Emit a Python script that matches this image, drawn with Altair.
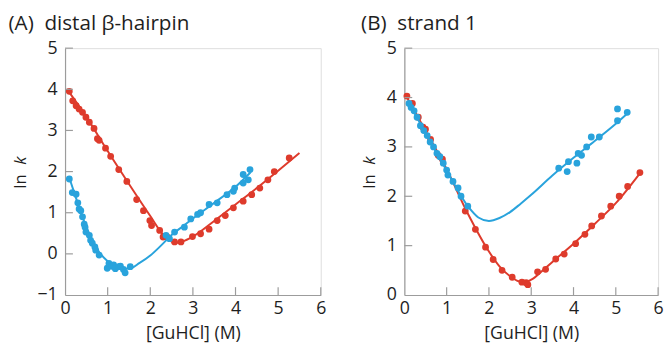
import altair as alt
import pandas as pd

FONT = "Open Sans"
RED = "#de3b2c"
BLUE = "#29a3dc"
BG = "#e4ded4"
AXIS = "#9c9c9c"
TXT = "#1e1e1e"

X_TICKS = [0, 1, 2, 3, 4, 5, 6]

# ---------------- Panel A: distal beta-hairpin ----------------
A_red_x = [0.10, 0.18, 0.26, 0.33, 0.41, 0.49, 0.57, 0.68, 0.76, 0.80, 0.95, 1.07, 1.26,
           1.45, 1.68, 1.84, 1.99, 2.03, 2.22, 2.30, 2.41, 2.57, 2.72, 2.99, 3.18, 3.38,
           3.57, 3.76, 3.95, 4.18, 4.38, 4.57, 4.76, 4.91, 5.26]
A_red_y = [3.95, 3.72, 3.60, 3.52, 3.44, 3.32, 3.20, 3.05, 2.80, 2.76, 2.57, 2.37, 2.05,
           1.76, 1.32, 1.05, 0.81, 0.69, 0.57, 0.41, 0.40, 0.29, 0.29, 0.42, 0.49, 0.60,
           0.81, 0.93, 1.12, 1.28, 1.44, 1.60, 1.80, 2.00, 2.33]
A_red_fit_x = [0.05, 0.5, 1.0, 1.5, 2.0, 2.3, 2.5, 2.6, 2.75, 3.0, 3.5, 4.0, 4.5, 5.0, 5.5]
A_red_fit_y = [4.00, 3.33, 2.50, 1.70, 0.92, 0.47, 0.30, 0.27, 0.30, 0.42, 0.80, 1.20, 1.60, 2.02, 2.45]

A_blue_x = [0.10, 0.17, 0.26, 0.30, 0.33, 0.37, 0.41, 0.45, 0.47, 0.49, 0.57, 0.60, 0.64,
            0.70, 0.72, 0.80, 0.99, 1.03, 1.10, 1.14, 1.18, 1.26, 1.30, 1.37, 1.41, 1.53,
            2.37, 2.45, 2.57, 2.80, 2.95, 3.11, 3.18, 3.38, 3.57, 3.80, 3.95, 3.98, 4.18,
            4.18, 4.30, 4.34]
A_blue_y = [1.82, 1.49, 1.45, 1.24, 1.09, 1.05, 0.90, 0.72, 0.65, 0.53, 0.45, 0.33, 0.26,
            0.17, 0.09, -0.03, -0.35, -0.23, -0.30, -0.27, -0.36, -0.31, -0.30, -0.38, -0.46, -0.31,
            0.45, 0.37, 0.53, 0.65, 0.85, 0.96, 1.00, 1.20, 1.24, 1.44, 1.52, 1.60, 1.72,
            1.93, 1.80, 2.05]
A_blue_fit_x = [0.10, 0.25, 0.5, 0.75, 1.0, 1.25, 1.5, 1.75, 2.0, 2.25, 2.5, 2.75, 3.0, 3.5, 4.0, 4.35]
A_blue_fit_y = [1.85, 1.38, 0.65, 0.12, -0.18, -0.33, -0.36, -0.22, -0.04, 0.20, 0.46, 0.66, 0.86, 1.24, 1.63, 1.98]

# ---------------- Panel B: strand 1 ----------------
B_red_x = [0.06, 0.19, 0.33, 0.44, 0.50, 0.62, 0.80, 0.90, 1.44, 1.68, 1.92, 2.10, 2.31,
           2.55, 2.78, 2.88, 2.92, 3.15, 3.34, 3.58, 3.78, 4.05, 4.27, 4.43, 4.66, 4.88,
           5.08, 5.28, 5.57]
B_red_y = [4.03, 3.88, 3.60, 3.40, 3.36, 3.15, 2.83, 2.75, 1.70, 1.33, 0.97, 0.72, 0.50,
           0.36, 0.26, 0.25, 0.21, 0.47, 0.52, 0.73, 0.83, 1.04, 1.23, 1.40, 1.60, 1.80,
           2.00, 2.20, 2.48]
B_red_fit_x = [0.05, 0.5, 1.0, 1.5, 2.0, 2.25, 2.5, 2.7, 2.85, 3.0, 3.25, 3.5, 4.0, 4.5, 5.0, 5.6]
B_red_fit_y = [4.02, 3.33, 2.55, 1.65, 0.88, 0.58, 0.38, 0.28, 0.26, 0.31, 0.48, 0.67, 1.04, 1.44, 1.86, 2.50]

B_blue_x = [0.11, 0.16, 0.23, 0.30, 0.38, 0.46, 0.54, 0.61, 0.69, 0.77, 0.84, 0.92, 1.00,
            1.03, 1.15, 1.27, 1.34, 1.50, 3.65, 3.85, 3.88, 4.08, 4.11, 4.19, 4.31, 4.42,
            4.61, 5.04, 5.04, 5.27]
B_blue_y = [3.88, 3.80, 3.73, 3.60, 3.43, 3.33, 3.23, 3.10, 3.00, 2.87, 2.80, 2.67, 2.53,
            2.43, 2.30, 2.17, 2.00, 1.80, 2.57, 2.50, 2.70, 2.67, 2.87, 2.83, 3.00, 3.20,
            3.20, 3.77, 3.53, 3.70]
B_blue_fit_x = [0.10, 0.5, 1.0, 1.5, 1.75, 2.0, 2.25, 2.5, 2.75, 3.0, 3.5, 4.0, 4.5, 5.0, 5.3]
B_blue_fit_y = [3.90, 3.28, 2.52, 1.80, 1.57, 1.50, 1.56, 1.68, 1.85, 2.03, 2.42, 2.78, 3.12, 3.47, 3.70]

H = 251


def panel(title, title_dx, W, ydom, yticks, inner_yticks, lnx,
          rx, ry, rfx, rfy, bx, by, bfx, bfy):
    xs = alt.Scale(domain=[0, 6], nice=False, zero=False)
    ys = alt.Scale(domain=ydom, nice=False, zero=False)
    xax = alt.Axis(values=X_TICKS, ticks=False, grid=False, domainColor=AXIS, domainWidth=1.2,
                   labelFontSize=18, labelFont=FONT, labelColor=TXT, labelPadding=5,
                   labelFlush=False, title="[GuHCl] (M)", titleFont=FONT, titleFontSize=18,
                   titleFontWeight="normal", titleColor=TXT, titlePadding=7)
    yax = alt.Axis(values=yticks, ticks=False, grid=False, domainColor=AXIS, domainWidth=1.2,
                   labelFontSize=18, labelFont=FONT, labelColor=TXT, labelPadding=8,
                   labelFlush=False, title=None)

    def xe(field="x"):
        return alt.X(f"{field}:Q", scale=xs, axis=xax)

    def ye(field="y"):
        return alt.Y(f"{field}:Q", scale=ys, axis=yax)

    red_pts = pd.DataFrame({"x": rx, "y": ry})
    red_fit = pd.DataFrame({"x": rfx, "y": rfy})
    blue_pts = pd.DataFrame({"x": bx, "y": by})
    blue_fit = pd.DataFrame({"x": bfx, "y": bfy})

    layers = [
        alt.Chart(red_fit).mark_line(color=RED, strokeWidth=2, interpolate="monotone").encode(x=xe(), y=ye()),
        alt.Chart(red_pts).mark_circle(color=RED, size=48, opacity=1).encode(x=xe(), y=ye()),
        alt.Chart(blue_fit).mark_line(color=BLUE, strokeWidth=2, interpolate="monotone").encode(x=xe(), y=ye()),
        alt.Chart(blue_pts).mark_circle(color=BLUE, size=48, opacity=1).encode(x=xe(), y=ye()),
        alt.Chart(pd.DataFrame({"t": X_TICKS[1:]})).mark_rule(color=AXIS, strokeWidth=1.2).encode(
            x=xe("t"), y=alt.value(H), y2=alt.value(H - 8)),
        alt.Chart(pd.DataFrame({"t": inner_yticks})).mark_rule(color=AXIS, strokeWidth=1.2).encode(
            y=ye("t"), x=alt.value(0), x2=alt.value(8)),
        alt.Chart(pd.DataFrame({"s": ["ln"]})).mark_text(
            angle=270, font=FONT, fontSize=17, color=TXT, align="center", baseline="middle").encode(
            text="s:N", x=alt.value(lnx), y=alt.value(H / 2 + 10)),
        alt.Chart(pd.DataFrame({"s": ["k"]})).mark_text(
            angle=270, font=FONT, fontSize=17, fontStyle="italic", color=TXT, align="center",
            baseline="middle").encode(
            text="s:N", x=alt.value(lnx), y=alt.value(H / 2 - 11)),
    ]
    return alt.layer(*layers).properties(
        width=W, height=H,
        title=alt.TitleParams(title, anchor="start", frame="bounds", font=FONT, fontSize=21,
                              fontWeight="normal", color=TXT, offset=5, dx=title_dx),
    )


pA = panel("(A)\u00a0 distal β-hairpin", -3.5, 260, [-1, 5], [-1, 0, 1, 2, 3, 4, 5], [0, 1, 2, 3, 4, 5], -45,
           A_red_x, A_red_y, A_red_fit_x, A_red_fit_y, A_blue_x, A_blue_y, A_blue_fit_x, A_blue_fit_y)
pB = panel("(B)\u00a0 strand 1", 0, 258, [0, 5], [0, 1, 2, 3, 4, 5], [1, 2, 3, 4, 5], -35,
           B_red_x, B_red_y, B_red_fit_x, B_red_fit_y, B_blue_x, B_blue_y, B_blue_fit_x, B_blue_fit_y)

chart = alt.hconcat(pA, pB, spacing=34).properties(
    padding={"left": 0, "top": 2, "right": 0, "bottom": 0}
).configure_view(fill=BG, stroke=None).configure(background="white")

chart.save("out.html", embed_options={"renderer": "svg", "actions": False})
